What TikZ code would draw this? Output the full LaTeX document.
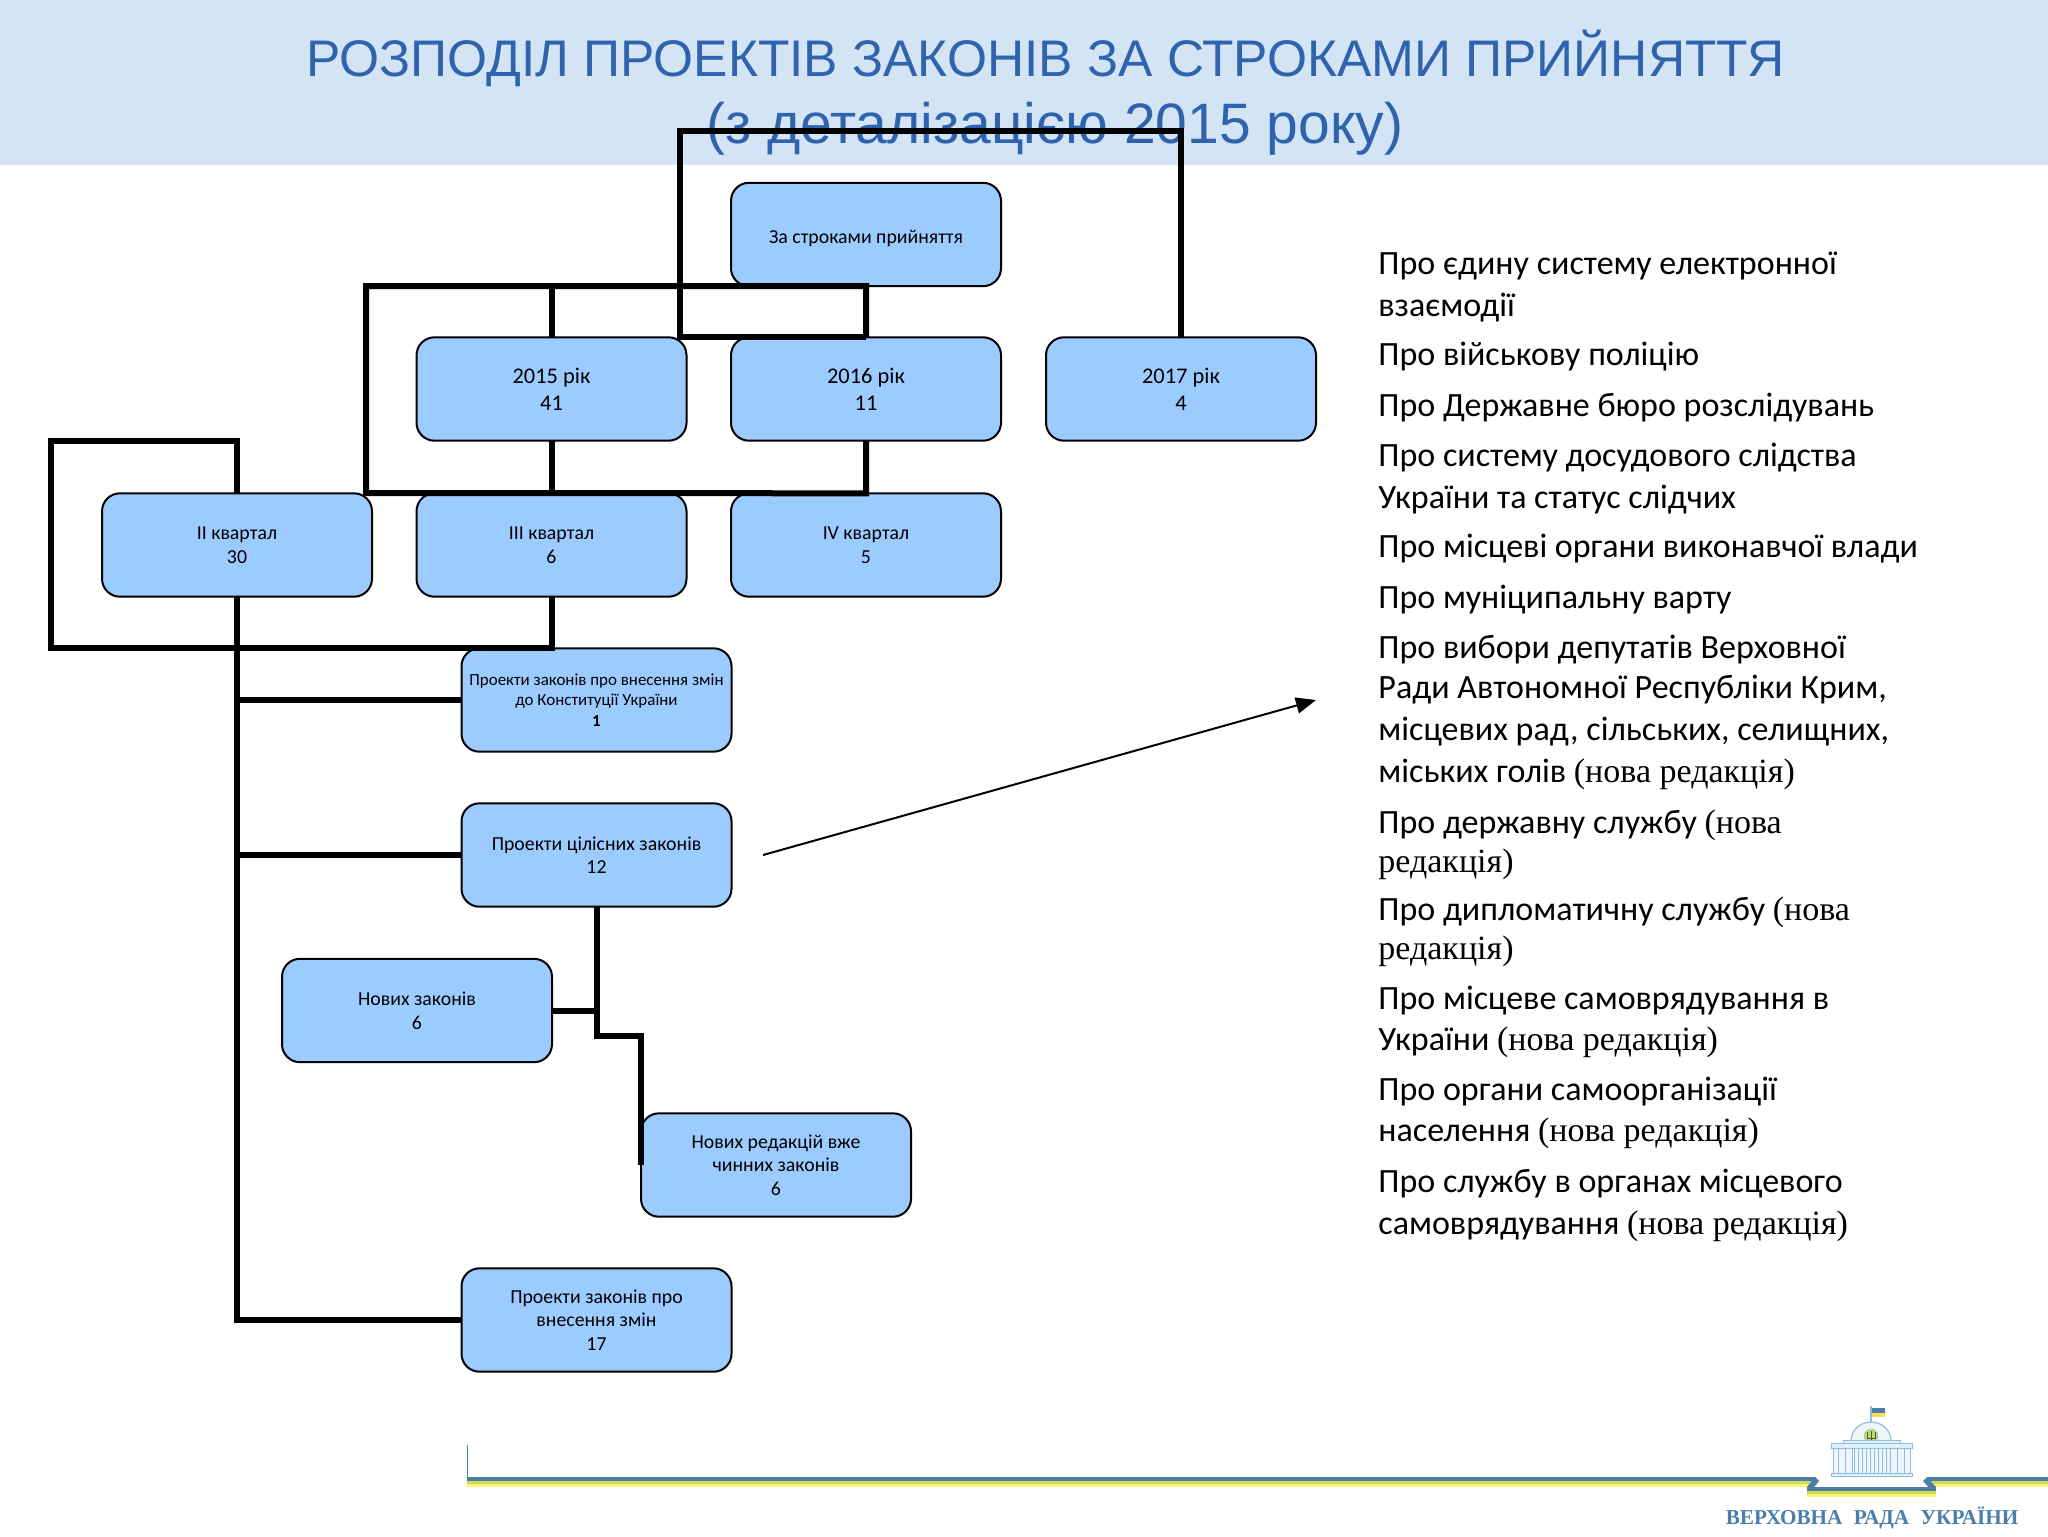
\documentclass[tikz,border=0pt]{standalone}
\usepackage{fontspec}
\setmainfont{Carlito}
\newfontfamily\titlefont{Liberation Sans}
\newfontfamily\timesfont{Liberation Serif}
\usetikzlibrary{arrows.meta}
\definecolor{bandblue}{HTML}{D3E4F5}
\definecolor{titleblue}{HTML}{2F63AE}
\definecolor{boxblue}{HTML}{9CCBFF}
\definecolor{ribbonblue}{HTML}{4A7EAB}
\definecolor{ribbongreen}{HTML}{C9DC52}
\definecolor{ribbonyellow}{HTML}{FFF27A}
\definecolor{palace}{HTML}{8DBFE3}
\newcommand{\newred}{{\timesfont (нова редакція)}}
\tikzset{
    boxnode/.style={draw=black, line width=1pt, fill=boxblue, rounded corners=9pt, outer sep=0pt,
        minimum width=135pt, minimum height=51.7pt, inner sep=0pt, align=center,
        execute at begin node={\rule{0pt}{10.6pt}},
        font=\fontsize{9.9}{11.75}\selectfont},
    yearnode/.style={boxnode, font=\fontsize{11.2}{13.5}\selectfont},
    smallnode/.style={boxnode, font=\fontsize{8.47}{10.2}\selectfont},
    link/.style={line width=3pt, black},
    lawline/.style={anchor=base west, inner sep=0pt, font=\fontsize{17}{17}\selectfont},
    titleline/.style={inner sep=0pt, anchor=base, text=titleblue, font=\fontsize{25.73}{25.73}\titlefont},
}
\newcommand{\stripe}[3]{
    \fill[ribbonyellow] (#1,#3+6) rectangle (#2,#3+10);
    \fill[ribbongreen] (#1,#3+3) rectangle (#2,#3+7);
    \fill[ribbonblue] (#1,#3) rectangle (#2,#3+4);
}

\begin{document}
\begin{tikzpicture}[x=0.5pt, y=-0.5pt]
    \useasboundingbox (0,0) rectangle (2048,1536);
    \fill[bandblue] (0,0) rectangle (2048,164.5);
    \node[titleline] (title1) at (1045,76) {РОЗПОДІЛ ПРОЕКТІВ ЗАКОНІВ ЗА СТРОКАМИ ПРИЙНЯТТЯ};
    \node[titleline, font=\fontsize{28.5}{28.5}\titlefont] (title2) at (1055,143) {(з деталізацією 2015 року)};

    \node[boxnode] (root) at (866,234.5) {За строками прийняття};
    \node[yearnode] (y2015) at (551.5,389) {2015 рік\\41};
    \node[yearnode] (y2016) at (866,389) {2016 рік\\11};
    \node[yearnode] (y2017) at (1181,389) {2017 рік\\4};
    \node[boxnode] (q2) at (237,545) {ІІ квартал\\30};
    \node[boxnode] (q3) at (551.5,545) {ІІІ квартал\\6};
    \node[boxnode] (q4) at (866,545) {ІV квартал\\5};
    \node[smallnode] (constit) at (596.5,700) {Проекти законів про внесення змін\\до Конституції України\\\textbf{1}};
    \node[boxnode] (whole) at (596.5,855) {Проекти цілісних законів\\12};
    \node[boxnode] (newlaw) at (417,1010.5) {Нових законів\\6};
    \node[boxnode] (redact) at (776,1165) {Нових редакцій вже\\чинних законів\\6};
    \node[boxnode] (amend) at (596.5,1320) {Проекти законів про\\внесення змін\\17};

    \coordinate (overtop) at (680,131);
    \coordinate (busleft) at (366,493);
    \coordinate (leftup) at (51,441);
    \coordinate (leftdown) at (51,648);
    \coordinate (jog) at (641,1036);
    \coordinate (arrowfrom) at (763,855);
    \coordinate (arrowto) at (1316,700);

    \draw[link] (y2016.south) -- (q4.north) -- (busleft) |- (root.south) -- (y2016.north);
    \draw[link] (y2015.north) |- (root.south);
    \draw[link] (y2017.north) |- (overtop) |- (y2016.north);
    \draw[link] (y2015.south) -- (q3.north);
    \draw[link] (q2.north) |- (leftup) -- (leftdown) -| (q3.south);
    \draw[link] (q2.south) |- (constit.west);
    \draw[link] (q2.south) |- (whole.west);
    \draw[link] (q2.south) |- (amend.west);
    \draw[link] (whole.south) |- (jog) -- (redact.west);
    \draw[link] (newlaw.east) -| (whole.south);
    \draw[-{Stealth[length=10pt,width=8pt,inset=0pt]}, line width=1pt] (arrowfrom) -- (arrowto);

    \foreach \ypos/\txt in {274/Про єдину систему електронної, 316/взаємодії,
        365/Про військову поліцію, 416/Про Державне бюро розслідувань,
        466/Про систему досудового слідства, 508/України та статус слідчих,
        557/Про місцеві органи виконавчої влади, 608/Про муніципальну варту,
        658/Про вибори депутатів Верховної, 698/{Ради Автономної Республіки Крим,},
        740/{місцевих рад, сільських, селищних,}, 782/міських голів \newred,
        833/Про державну службу {\timesfont (нова}, 872/{\timesfont редакція)},
        920/Про дипломатичну службу {\timesfont (нова}, 959/{\timesfont редакція)},
        1009/Про місцеве самоврядування в, 1050/України \newred,
        1100/Про органи самоорганізації, 1141/населення \newred,
        1192/Про службу в органах місцевого, 1234/самоврядування \newred}
        \node[lawline] (law\ypos) at (1378,\ypos) {\txt};

    \draw[ribbonblue, line width=0.5pt] (467,1445) -- (467,1486);
    \stripe{467}{1815}{1477}
    \stripe{1927}{2048}{1477}
    \stripe{1807}{1936}{1487}
    \fill[ribbonblue] (1815,1477) -- (1819,1481) -- (1811,1491) -- (1807,1487) -- cycle;
    \fill[ribbonblue] (1927,1477) -- (1923,1481) -- (1932,1491) -- (1936,1487) -- cycle;

    \draw[palace, line width=0.6pt] (1871,1423) -- (1871,1406);
    \fill[ribbonblue] (1872,1408) rectangle (1885,1413);
    \fill[ribbonyellow!80!orange] (1872,1413) rectangle (1885,1417);
    \draw[palace, line width=0.6pt, fill=palace!15] (1851,1441) arc (180:360:20 and 19) -- cycle;
    \fill[ribbongreen, draw=palace, line width=0.3pt] (1871,1436) circle (3.4pt);
    \draw[ribbonblue!70!black, line width=0.5pt] (1871,1431) -- (1871,1441) (1867,1432) -- (1867,1438) -- (1875,1438) -- (1875,1432);
    \draw[palace, line width=0.5pt, fill=palace!25] (1843,1440) rectangle (1900,1444);
    \draw[palace, line width=0.5pt, fill=palace!25] (1831,1443) rectangle (1912,1448);
    \draw[palace, line width=0.5pt, fill=palace!15] (1833,1448) rectangle (1910,1473);
    \foreach \colx in {1838,1845,1852,1854,1858,1862,1866,1870,1874,1878,1882,1886,1890,1897,1904}
        \draw[palace, line width=0.5pt] (\colx,1448) -- (\colx,1473);
    \draw[palace, line width=0.5pt, fill=palace!25] (1831,1473) rectangle (1912,1476);
    \node[inner sep=0pt, anchor=base, text=ribbonblue, font=\fontsize{10.6}{11}\bfseries\timesfont]
        (logotext) at (1872,1524) {ВЕРХОВНА\hspace{3pt} РАДА\hspace{3pt} УКРАЇНИ};
\end{tikzpicture}
\end{document}
